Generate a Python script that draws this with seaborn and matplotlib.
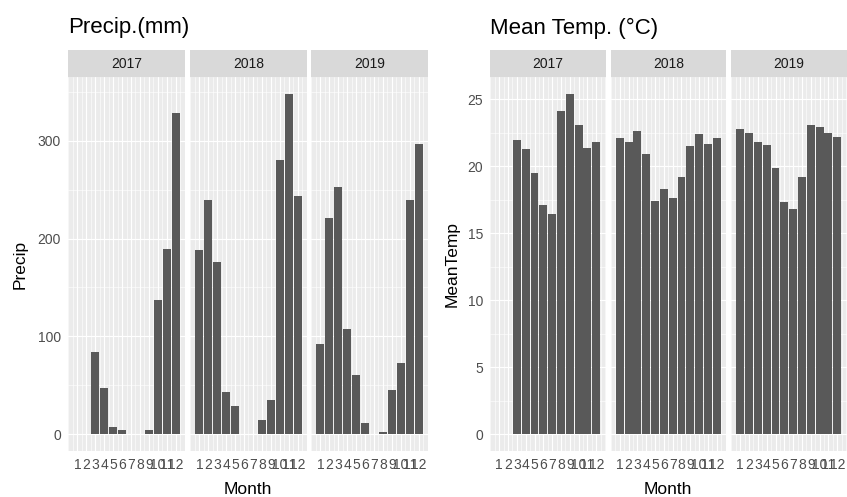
import numpy as np
import pandas as pd
import matplotlib
matplotlib.use("Agg")
import matplotlib.pyplot as plt
import seaborn as sns

# Monthly values per year (NaN = no record for that month)
months = list(range(1, 13))
years = [2017, 2018, 2019]

precip_2017 = [np.nan, np.nan, 84, 47, 7.5, 4, 0, 0, 4, 137, 189, 329]
precip_2018 = [188, 239, 176, 43, 29, 0, 0, 14, 35, 280, 348, 244]
precip_2019 = [92, 221, 253, 107, 60, 11, 0, 1.7, 45, 73, 239, 297]

temp_2017 = [np.nan, np.nan, 22.0, 21.3, 19.5, 17.1, 16.4, 24.1, 25.4, 23.1, 21.4, 21.8]
temp_2018 = [22.1, 21.8, 22.6, 20.9, 17.4, 18.3, 17.6, 19.2, 21.5, 22.4, 21.7, 22.1]
temp_2019 = [22.8, 22.5, 21.8, 21.6, 19.9, 17.3, 16.8, 19.2, 23.1, 22.9, 22.5, 22.2]

month_labels = [str(m) for m in months]

rows = []
for yr, pr, tm in zip(years, [precip_2017, precip_2018, precip_2019],
                      [temp_2017, temp_2018, temp_2019]):
    for m, p, t in zip(months, pr, tm):
        rows.append({"Year": yr, "Month": m, "Precip": p, "MeanTemp": t})
df = pd.DataFrame(rows)

sns.set_theme(style="white")
plt.rcParams["font.family"] = ["Liberation Sans", "DejaVu Sans"]

W, H = 847, 497
fig = plt.figure(figsize=(W / 100, H / 100), dpi=100)


def px_axes(x, y, w, h):
    return fig.add_axes([x / W, 1 - (y + h) / H, w / W, h / H])


PANEL_BG = "#EBEBEB"
STRIP_BG = "#D9D9D9"
BAR = "#595959"
TICK_TXT = "#4D4D4D"

panel_top, panel_bot = 77, 451
strip_top = 50


def facet_group(var, title, ylabel, yticks, xs, width, title_x, ylab_x):
    ymax = np.nanmax(df[var].values)
    ylim = (-0.05 * ymax, 1.05 * ymax)
    step = yticks[1] - yticks[0]
    yminor = np.arange(yticks[0] - step / 2, ylim[1], step)
    for i, (yr, x0) in enumerate(zip(years, xs)):
        ax = px_axes(x0, panel_top, width, panel_bot - panel_top)
        ax.set_facecolor(PANEL_BG)
        sub = df[df["Year"] == yr].dropna(subset=[var])
        sns.barplot(data=sub, x="Month", y=var, native_scale=True, color=BAR,
                    saturation=1, width=0.9, errorbar=None, linewidth=0,
                    edgecolor="none", ax=ax, zorder=3)
        ax.set_xlim(-0.045, 13.045)
        ax.set_ylim(*ylim)
        ax.set_xticks(months)
        ax.set_xticklabels(month_labels)
        ax.set_xticks(np.arange(0, 13.5, 0.5), minor=True)
        ax.set_yticks(yticks)
        ax.set_yticks(yminor[(yminor > ylim[0]) & (yminor < ylim[1])], minor=True)
        ax.grid(which="major", color="white", linewidth=0.8, zorder=0)
        ax.grid(which="minor", color="white", linewidth=0.4, zorder=0)
        ax.set_axisbelow(True)
        for s in ax.spines.values():
            s.set_visible(False)
        ax.tick_params(which="major", length=3, width=0.8, color="#333333",
                       labelsize=10, labelcolor=TICK_TXT, pad=2)
        ax.tick_params(which="minor", length=0)
        ax.set_xlabel("")
        ax.set_ylabel("")
        if i > 0:
            ax.tick_params(axis="y", length=0, labelleft=False)
        # facet strip
        st = px_axes(x0, strip_top, width, panel_top - strip_top)
        st.set_facecolor(STRIP_BG)
        st.set_xticks([])
        st.set_yticks([])
        for s in st.spines.values():
            s.set_visible(False)
        st.text(0.5, 0.5, str(yr), ha="center", va="center", fontsize=10,
                color="#1A1A1A", transform=st.transAxes)
    left = xs[0]
    right = xs[-1] + width
    fig.text(title_x / W, 1 - 28 / H, title, fontsize=16, color="black",
             ha="left", va="center")
    fig.text((left + right) / 2 / W, 1 - 489 / H, "Month", fontsize=12.5,
             color="black", ha="center", va="center")
    fig.text(ylab_x / W, 1 - 264 / H, ylabel, fontsize=12.5, color="black",
             ha="center", va="center", rotation=90)


facet_group("Precip", "Precip.(mm)", "Precip", [0, 100, 200, 300],
            [68, 190, 311], 117, 68, 20)
facet_group("MeanTemp", "Mean Temp. (°C)", "MeanTemp", [0, 5, 10, 15, 20, 25],
            [490, 610.5, 731], 115.5, 490, 452)

fig.savefig("out.png", dpi=100, facecolor="white")
